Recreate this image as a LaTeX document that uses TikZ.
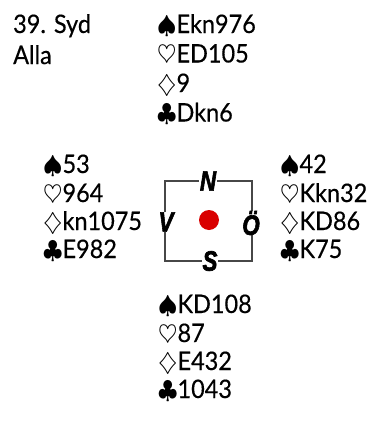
\documentclass[tikz,border=0pt]{standalone}
\usepackage{fontspec}
\setmainfont{Lato}[FakeStretch=0.92,FakeBold=0.4]
\newfontfamily\compassfont{Liberation Sans}[FakeBold=2.5]
\begin{document}
\begin{tikzpicture}[x=1pt,y=-1pt,
  card/.style={anchor=base west,inner sep=0pt,font=\fontsize{25.5}{29}\selectfont},
  cletter/.style={fill=white,inner xsep=1pt,inner ysep=0pt,font=\compassfont\bfseries\itshape\fontsize{28}{28}\selectfont},
  frame/.style={draw=black!72,line width=2.5pt}]
\useasboundingbox (0,0) rectangle (378,421);
\newcommand{\Sp}{$\spadesuit$}
\newcommand{\Hs}{$\heartsuit$}
\newcommand{\Di}{$\diamondsuit$}
\newcommand{\Cl}{$\clubsuit$}
% header
\node[card] (t1) at (13,33) {39. Syd};
\node[card] (t2) at (13,64) {Alla};
% North
\node[card] (n1) at (157,33) {\Sp Ekn976};
\node[card] (n2) at (157,62.5) {\Hs ED105};
\node[card] (n3) at (157,92) {\Di 9};
\node[card] (n4) at (157,121.5) {\Cl Dkn6};
% West
\node[card] (w1) at (43,173) {\Sp 53};
\node[card] (w2) at (43,202) {\Hs 964};
\node[card] (w3) at (43,230) {\Di kn1075};
\node[card] (w4) at (43,258) {\Cl E982};
% East
\node[card] (e1) at (280,173) {\Sp 42};
\node[card] (e2) at (280,202) {\Hs Kkn32};
\node[card] (e3) at (280,230) {\Di KD86};
\node[card] (e4) at (280,258) {\Cl K75};
% South
\node[card] (s1) at (158,313) {\Sp KD108};
\node[card] (s2) at (158,342) {\Hs 87};
\node[card] (s3) at (158,370) {\Di E432};
\node[card] (s4) at (158,398) {\Cl 1043};
% compass
\coordinate (bl) at (165,261);
\coordinate (tr) at (252,181);
\draw[frame] (bl) rectangle (tr);
\fill[red!85!black] (209,220) circle (10);
\node[cletter] (cn) at (208,181) {\scalebox{0.8}[1]{N}};
\node[cletter] (cs) at (210,261) {\scalebox{0.8}[1]{S}};
\node[cletter] (cv) at (166,222) {\scalebox{0.8}[1]{V}};
\node[cletter] (co) at (251,223) {\scalebox{0.8}[1]{Ö}};
\end{tikzpicture}
\end{document}
